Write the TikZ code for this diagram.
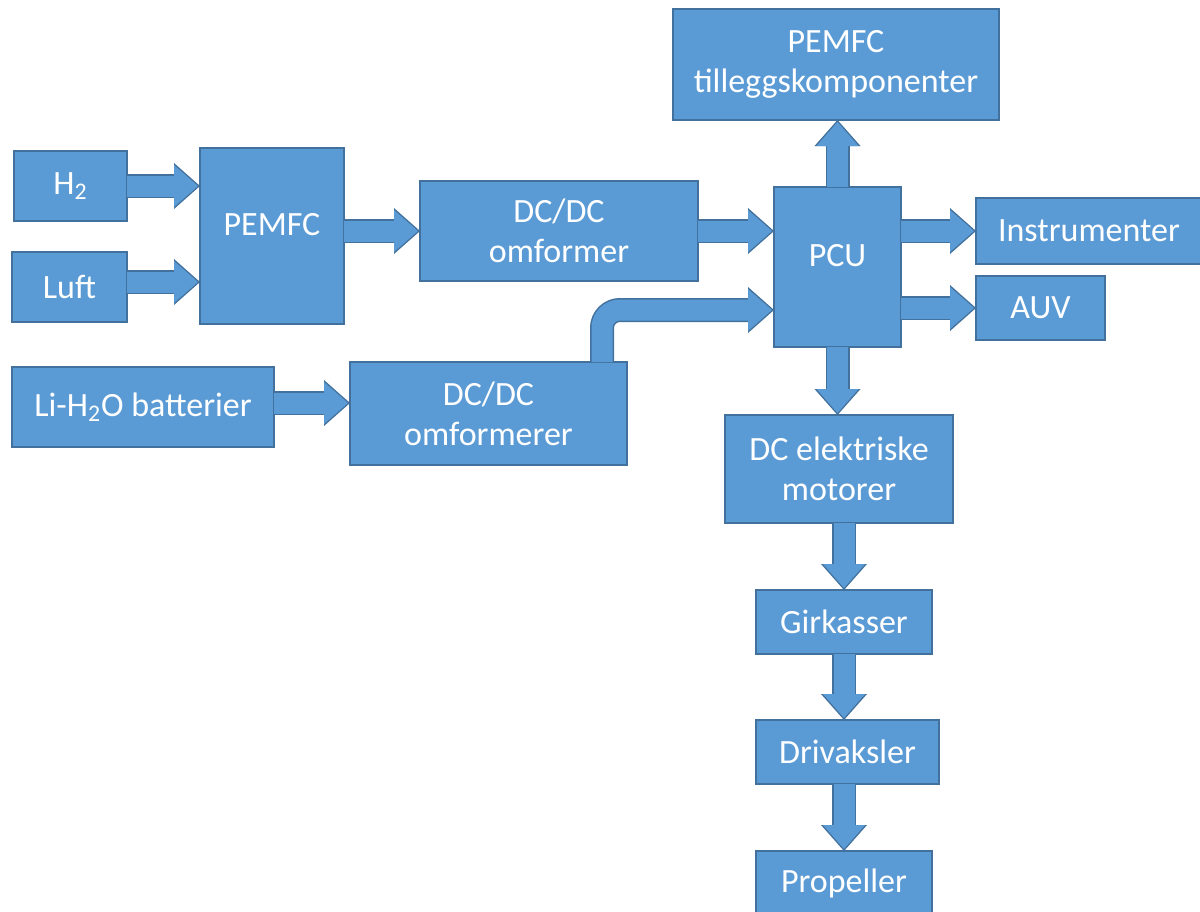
\documentclass[tikz,border=0pt]{standalone}
\usepackage{fontspec}
\setmainfont{Carlito}
\usetikzlibrary{arrows.meta}

\definecolor{blokfill}{RGB}{91,155,213}
\definecolor{blokline}{RGB}{65,113,156}

\begin{document}
\begin{tikzpicture}[x=0.5pt, y=-0.5pt,
    blok/.style={fill=blokfill, draw=blokline, line width=0.6pt, text=white,
        rectangle, align=center, inner sep=0pt, outer sep=0pt,
        font=\fontsize{17}{20}\selectfont},
    hoy/.style={text depth=12pt},
    pil/.style={draw=blokline, line width=12pt,
        -{Triangle[length=13pt 0 0, width=23pt 0 0, line width=0pt 0 0, fill=blokline]},
        postaction={draw=blokfill, line width=10.5pt, shorten >=1pt,
            -{Triangle[length=12pt 0 0, width=21pt 0 0, line width=0pt 0 0, fill=blokfill]}}}]
\useasboundingbox (0,0) rectangle (1200,911);

\node[blok, minimum width=56.5pt, minimum height=35pt] (h2) at (70.5,186) {H\textsubscript{2}};
\node[blok, minimum width=57.5pt, minimum height=35pt] (luft) at (69.5,287) {Luft};
\node[blok, hoy, minimum width=72pt, minimum height=88pt] (pemfc) at (272,236) {PEMFC};
\node[blok, minimum width=139pt, minimum height=50pt] (dc1) at (559,231) {DC/DC\\omformer};
\node[blok, minimum width=131pt, minimum height=40pt] (li) at (143,407) {Li-H\textsubscript{2}O batterier};
\node[blok, minimum width=138.5pt, minimum height=51.5pt] (dc2) at (488.5,413.5) {DC/DC\\omformerer};

\node[blok, hoy, minimum width=63.5pt, minimum height=80pt] (pcu) at (837.5,267) {PCU};
\node[blok, minimum width=163pt, minimum height=55.5pt] (tillegg) at (836,64.5) {PEMFC\\tilleggskomponenter};
\node[blok, minimum width=113pt, minimum height=33pt] (instr) at (1089,231) {Instrumenter};
\node[blok, minimum width=64.5pt, minimum height=32pt] (auv) at (1040.5,308) {AUV};

\node[blok, minimum width=114pt, minimum height=54pt] (motor) at (839,469) {DC elektriske\\motorer};
\node[blok, minimum width=88pt, minimum height=32pt] (gir) at (844,622) {Girkasser};
\node[blok, minimum width=91.5pt, minimum height=32pt] (driv) at (847.5,752) {Drivaksler};
\node[blok, minimum width=88pt, minimum height=32pt] (prop) at (844,883) {Propeller};

\coordinate (knekk) at (602,310);

\draw[pil] (h2.east) -- (h2.east -| pemfc.west);
\draw[pil] ([yshift=2.5pt]luft.east) -- ([yshift=2.5pt]luft.east -| pemfc.west);
\draw[pil] (dc1.west -| pemfc.east) -- (dc1.west);
\draw[pil] (dc1.east) -- (dc1.east -| pcu.west);
\draw[pil] ([yshift=2pt]li.east) -- ([yshift=2pt]li.east -| dc2.west);
\draw[pil, rounded corners=9pt] (knekk |- dc2.north) |- (knekk -| pcu.west);
\draw[pil] (pcu.north) -- (pcu.north |- tillegg.south);
\draw[pil] (instr.west -| pcu.east) -- (instr.west);
\draw[pil] (auv.west -| pcu.east) -- (auv.west);
\draw[pil] (pcu.south) -- (pcu.south |- motor.north);
\draw[pil] (gir.north |- motor.south) -- (gir.north);
\draw[pil] (gir.south) -- (gir.south |- driv.north);
\draw[pil] (prop.north |- driv.south) -- (prop.north);
\end{tikzpicture}
\end{document}
